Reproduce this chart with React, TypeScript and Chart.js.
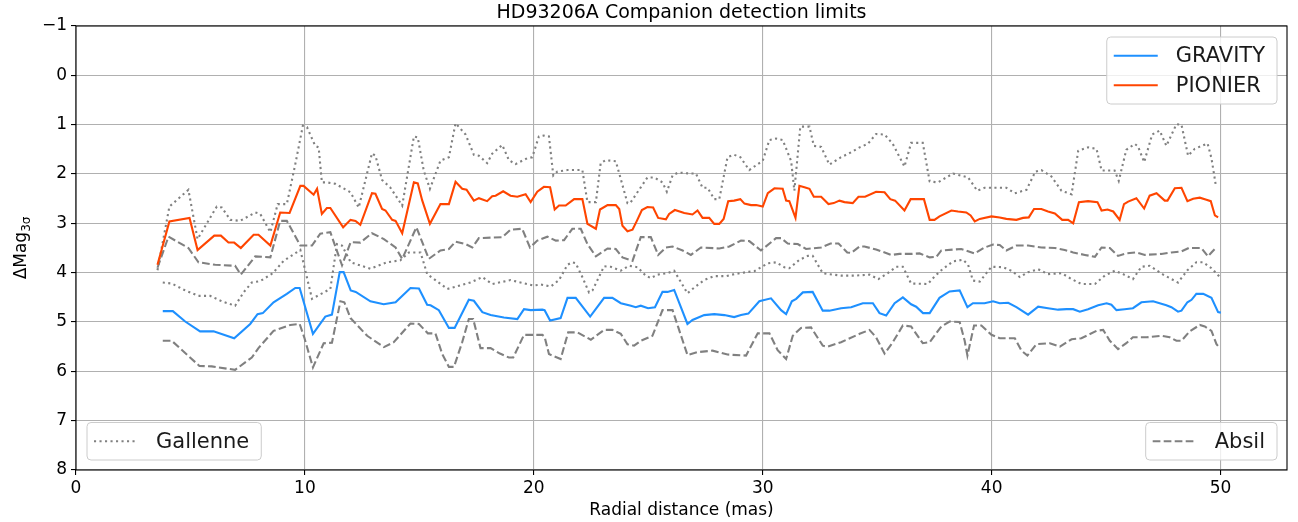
import React, { useEffect, useRef } from "react";
import { Chart, registerables } from "chart.js";

Chart.register(...registerables);

const TITLE = "HD93206A Companion detection limits";
const X_LABEL = "Radial distance (mas)";
const Y_LABEL_MAIN = "ΔMag";
const Y_LABEL_SUB = "3σ";
const X_TICKS = [0, 10, 20, 30, 40, 50];
const Y_TICKS = [-1, 0, 1, 2, 3, 4, 5, 6, 7, 8];

const gravityX = [3.79, 4.23, 4.77, 5.42, 6.01, 6.91, 7.61, 7.93, 8.16, 8.63, 9.21, 9.58, 9.77, 10.35, 10.89, 11.18, 11.52, 11.69, 12.0, 12.22, 12.86, 13.44, 13.96, 14.61, 14.98, 15.34, 15.49, 15.85, 16.29, 16.54, 17.16, 17.38, 17.75, 18.11, 18.69, 19.28, 19.57, 19.86, 20.37, 20.47, 20.71, 21.17, 21.47, 21.83, 22.46, 23.07, 23.43, 23.8, 24.24, 24.45, 24.67, 24.99, 25.29, 25.62, 25.84, 26.13, 26.71, 26.93, 27.44, 27.88, 28.32, 28.75, 29.05, 29.37, 29.85, 30.36, 30.8, 31.02, 31.27, 31.46, 31.75, 32.18, 32.62, 32.91, 33.42, 33.86, 34.37, 34.81, 35.1, 35.39, 35.76, 36.12, 36.48, 36.7, 37.0, 37.29, 37.72, 38.16, 38.6, 38.94, 39.18, 39.69, 40.06, 40.35, 40.72, 41.08, 41.59, 42.03, 42.46, 42.9, 43.27, 43.56, 43.85, 44.21, 44.65, 45.02, 45.23, 45.45, 45.81, 46.17, 46.54, 47.05, 47.63, 47.85, 48.14, 48.29, 48.55, 48.73, 48.94, 49.24, 49.6, 49.89, 50.01];
const gravityY = [4.78, 4.78, 4.99, 5.19, 5.19, 5.33, 5.04, 4.84, 4.82, 4.6, 4.43, 4.31, 4.31, 5.24, 4.89, 4.85, 3.99, 3.99, 4.36, 4.39, 4.58, 4.64, 4.6, 4.31, 4.32, 4.65, 4.66, 4.76, 5.12, 5.12, 4.55, 4.57, 4.8, 4.86, 4.91, 4.94, 4.74, 4.76, 4.75, 4.76, 4.97, 4.92, 4.51, 4.51, 4.89, 4.51, 4.51, 4.62, 4.67, 4.7, 4.67, 4.72, 4.7, 4.39, 4.39, 4.35, 5.04, 4.96, 4.86, 4.84, 4.86, 4.9, 4.86, 4.83, 4.58, 4.52, 4.76, 4.84, 4.58, 4.53, 4.4, 4.39, 4.77, 4.77, 4.72, 4.7, 4.62, 4.62, 4.82, 4.87, 4.62, 4.5, 4.64, 4.69, 4.82, 4.82, 4.51, 4.38, 4.36, 4.7, 4.62, 4.62, 4.58, 4.62, 4.61, 4.7, 4.85, 4.69, 4.72, 4.75, 4.74, 4.74, 4.79, 4.74, 4.66, 4.62, 4.65, 4.76, 4.74, 4.72, 4.6, 4.58, 4.66, 4.7, 4.79, 4.77, 4.6, 4.55, 4.43, 4.43, 4.51, 4.8, 4.81];

const pionierX = [3.56, 4.08, 4.96, 5.31, 6.04, 6.33, 6.66, 6.91, 7.2, 7.76, 7.97, 8.49, 8.92, 9.33, 9.8, 9.94, 10.38, 10.53, 10.74, 10.96, 11.11, 11.67, 11.99, 12.21, 12.42, 12.93, 13.08, 13.37, 13.52, 13.81, 13.96, 14.25, 14.76, 14.93, 15.12, 15.46, 15.92, 16.29, 16.58, 16.87, 17.06, 17.38, 17.6, 17.96, 18.18, 18.33, 18.66, 18.98, 19.28, 19.64, 19.86, 20.15, 20.44, 20.71, 20.91, 21.1, 21.39, 21.76, 22.12, 22.34, 22.71, 22.89, 23.22, 23.58, 23.73, 23.87, 24.09, 24.31, 24.5, 24.72, 24.96, 25.21, 25.43, 25.77, 25.91, 26.16, 26.57, 26.93, 27.15, 27.37, 27.66, 27.88, 28.1, 28.29, 28.49, 28.75, 29.02, 29.2, 29.49, 29.71, 30.0, 30.22, 30.51, 30.87, 31.02, 31.16, 31.43, 31.6, 31.82, 32.04, 32.23, 32.55, 32.87, 33.1, 33.35, 33.57, 33.93, 34.18, 34.47, 34.95, 35.32, 35.57, 35.78, 36.19, 36.46, 37.04, 37.29, 37.5, 37.72, 38.24, 38.53, 38.89, 39.08, 39.26, 39.48, 39.99, 40.35, 40.64, 41.08, 41.37, 41.62, 41.85, 42.17, 42.46, 42.76, 43.08, 43.34, 43.56, 43.81, 44.21, 44.62, 44.8, 45.06, 45.31, 45.59, 45.78, 45.96, 46.32, 46.66, 46.9, 47.2, 47.56, 47.68, 48.0, 48.29, 48.55, 48.8, 49.09, 49.38, 49.57, 49.75, 49.89];
const pionierY = [3.84, 2.96, 2.89, 3.54, 3.25, 3.25, 3.39, 3.39, 3.5, 3.23, 3.23, 3.45, 2.78, 2.79, 2.24, 2.24, 2.42, 2.3, 2.81, 2.69, 2.69, 3.08, 2.93, 2.95, 3.03, 2.39, 2.4, 2.71, 2.74, 2.93, 2.95, 3.2, 2.17, 2.19, 2.53, 3.01, 2.61, 2.61, 2.16, 2.3, 2.32, 2.54, 2.49, 2.55, 2.45, 2.44, 2.35, 2.44, 2.46, 2.41, 2.57, 2.36, 2.26, 2.27, 2.72, 2.64, 2.64, 2.51, 2.51, 3.01, 3.11, 2.72, 2.63, 2.63, 2.71, 3.05, 3.16, 3.13, 2.95, 2.73, 2.67, 2.68, 2.89, 2.92, 2.81, 2.73, 2.79, 2.82, 2.74, 2.89, 2.89, 3.01, 3.01, 2.91, 2.55, 2.54, 2.51, 2.6, 2.63, 2.63, 2.66, 2.39, 2.29, 2.3, 2.54, 2.55, 2.89, 2.24, 2.27, 2.3, 2.46, 2.46, 2.61, 2.59, 2.54, 2.57, 2.59, 2.46, 2.46, 2.36, 2.37, 2.51, 2.54, 2.74, 2.51, 2.51, 2.93, 2.93, 2.86, 2.74, 2.76, 2.78, 2.84, 2.96, 2.91, 2.86, 2.88, 2.91, 2.93, 2.89, 2.88, 2.71, 2.71, 2.76, 2.8, 2.93, 2.93, 3.0, 2.57, 2.55, 2.57, 2.74, 2.72, 2.76, 2.93, 2.61, 2.56, 2.49, 2.7, 2.44, 2.39, 2.54, 2.54, 2.29, 2.28, 2.55, 2.5, 2.48, 2.52, 2.55, 2.84, 2.88];

const gallenneUpperX = [3.56, 4.08, 4.91, 5.31, 6.15, 6.37, 6.74, 7.17, 7.83, 8.05, 8.49, 8.81, 9.21, 9.58, 9.91, 10.09, 10.45, 10.6, 10.74, 10.96, 11.33, 11.99, 12.35, 12.93, 13.08, 13.37, 13.74, 14.25, 14.76, 14.93, 15.19, 15.46, 15.92, 16.29, 16.58, 17.02, 17.38, 17.6, 17.96, 18.18, 18.62, 18.91, 19.2, 19.71, 19.93, 20.22, 20.44, 20.66, 20.85, 21.03, 21.47, 22.12, 22.34, 22.71, 22.92, 23.14, 23.58, 24.09, 24.21, 24.67, 24.96, 25.26, 25.62, 25.81, 26.06, 26.31, 26.79, 27.08, 27.37, 27.59, 27.88, 28.1, 28.46, 28.75, 29.02, 29.41, 30.0, 30.29, 30.58, 30.87, 31.24, 31.38, 31.64, 32.04, 32.23, 32.55, 32.91, 33.42, 33.86, 34.23, 34.59, 34.95, 35.32, 35.68, 36.19, 36.48, 36.99, 37.29, 37.65, 38.31, 38.97, 39.37, 39.69, 40.64, 41.01, 41.52, 41.91, 42.17, 42.61, 43.05, 43.49, 43.78, 44.21, 44.58, 44.8, 45.37, 45.55, 45.88, 46.25, 46.39, 46.66, 47.01, 47.34, 47.63, 48.07, 48.29, 48.58, 48.87, 49.43, 49.6, 49.78];
const gallenneUpperY = [3.95, 2.66, 2.32, 3.32, 2.66, 2.68, 2.93, 2.95, 2.78, 2.81, 3.18, 2.61, 2.61, 1.8, 1.02, 1.05, 1.43, 1.46, 2.17, 2.17, 2.2, 2.37, 2.68, 1.58, 1.63, 2.12, 2.28, 2.64, 1.24, 1.26, 1.93, 2.3, 1.73, 1.66, 0.97, 1.2, 1.61, 1.63, 1.78, 1.59, 1.41, 1.72, 1.8, 1.68, 1.66, 1.24, 1.22, 1.24, 2.03, 1.95, 1.92, 1.92, 2.57, 2.57, 1.78, 1.72, 1.74, 2.59, 2.59, 2.27, 2.07, 2.07, 2.17, 2.36, 2.03, 1.97, 1.99, 1.99, 2.28, 2.28, 2.51, 2.51, 1.66, 1.61, 1.66, 1.92, 1.73, 1.31, 1.28, 1.31, 1.74, 2.34, 1.04, 1.04, 1.43, 1.45, 1.81, 1.66, 1.56, 1.46, 1.39, 1.19, 1.2, 1.39, 1.85, 1.37, 1.37, 2.15, 2.17, 1.99, 2.07, 2.34, 2.28, 2.28, 2.39, 2.32, 1.95, 1.92, 2.05, 2.34, 2.41, 1.53, 1.46, 1.49, 1.93, 1.93, 2.14, 1.51, 1.39, 1.44, 1.76, 1.2, 1.12, 1.43, 0.99, 1.0, 1.63, 1.49, 1.38, 1.68, 2.2];

const gallenneLowerX = [3.79, 4.18, 4.77, 5.35, 5.86, 6.37, 6.95, 7.32, 7.68, 8.05, 8.6, 9.07, 9.8, 10.31, 11.11, 11.4, 11.62, 12.0, 12.86, 13.59, 14.17, 14.54, 15.05, 15.34, 16.22, 17.23, 17.75, 18.18, 18.98, 19.99, 20.3, 20.74, 21.1, 21.47, 21.68, 21.83, 22.12, 22.41, 22.56, 23.07, 23.36, 23.8, 24.16, 24.53, 24.89, 25.11, 25.4, 25.84, 26.13, 26.71, 27.01, 27.44, 27.88, 28.39, 28.75, 29.27, 29.63, 30.22, 30.58, 30.94, 31.16, 31.6, 31.97, 32.18, 32.62, 32.91, 33.42, 34.01, 34.66, 35.05, 35.46, 35.83, 36.12, 36.48, 37.21, 37.5, 37.8, 38.31, 38.75, 38.97, 39.18, 39.48, 39.99, 40.5, 40.86, 41.23, 41.59, 42.03, 42.46, 43.05, 43.49, 43.92, 44.51, 44.94, 45.38, 45.74, 46.17, 46.54, 46.9, 47.49, 48.14, 48.55, 48.94, 49.24, 49.6, 49.97];
const gallenneLowerY = [4.2, 4.22, 4.36, 4.47, 4.47, 4.58, 4.67, 4.4, 4.2, 4.17, 4.01, 3.76, 3.54, 4.53, 4.33, 3.42, 3.45, 3.79, 3.92, 3.79, 3.75, 3.59, 3.59, 4.03, 4.33, 4.2, 4.09, 4.23, 4.15, 4.26, 4.24, 4.28, 4.15, 3.84, 3.79, 3.81, 4.09, 4.4, 4.36, 3.87, 3.88, 3.96, 3.86, 3.89, 4.06, 4.11, 4.04, 4.01, 3.96, 4.42, 4.3, 4.15, 4.07, 4.07, 4.03, 3.99, 3.97, 3.81, 3.79, 3.89, 3.91, 3.74, 3.66, 3.66, 4.01, 4.03, 4.06, 4.06, 4.04, 4.13, 4.01, 3.88, 3.88, 4.22, 4.23, 4.08, 3.95, 3.77, 3.74, 3.84, 4.16, 4.18, 3.88, 3.89, 3.96, 4.09, 3.99, 3.93, 4.03, 4.01, 4.13, 4.23, 4.23, 4.06, 3.96, 4.03, 4.13, 3.88, 3.86, 4.04, 4.2, 3.95, 3.79, 3.79, 3.91, 4.09];

const absilUpperX = [3.56, 4.04, 4.91, 5.35, 6.08, 6.95, 7.2, 7.83, 8.49, 8.92, 9.21, 9.8, 10.31, 10.67, 11.11, 11.62, 12.0, 12.42, 12.93, 13.45, 13.96, 14.25, 14.87, 15.41, 15.92, 16.29, 16.58, 17.02, 17.31, 17.6, 18.62, 18.98, 19.49, 19.83, 20.15, 20.59, 20.96, 21.32, 21.68, 22.05, 22.34, 22.71, 23.22, 23.58, 23.87, 24.31, 24.67, 25.11, 25.43, 25.77, 26.06, 26.5, 26.86, 27.3, 28.1, 28.54, 29.05, 29.41, 29.92, 30.58, 30.8, 31.09, 31.53, 31.89, 32.55, 32.96, 33.31, 33.69, 33.86, 34.23, 34.44, 34.95, 35.61, 35.97, 36.48, 36.85, 37.29, 37.58, 37.8, 38.67, 39.26, 39.69, 40.06, 40.35, 40.64, 41.08, 41.59, 42.17, 42.76, 43.19, 43.56, 44.07, 44.51, 44.8, 45.16, 45.52, 45.88, 46.32, 46.69, 47.41, 47.85, 48.29, 48.61, 49.16, 49.45, 49.6, 49.79];
const absilUpperY = [3.9, 3.27, 3.5, 3.79, 3.84, 3.86, 4.04, 3.67, 3.69, 2.95, 2.95, 3.45, 3.45, 3.21, 3.18, 3.85, 3.38, 3.39, 3.2, 3.32, 3.49, 3.72, 3.08, 3.72, 3.55, 3.52, 3.37, 3.42, 3.49, 3.3, 3.28, 3.13, 3.11, 3.49, 3.35, 3.27, 3.35, 3.34, 3.11, 3.11, 3.42, 3.67, 3.51, 3.52, 3.69, 3.76, 3.28, 3.28, 3.64, 3.49, 3.47, 3.55, 3.64, 3.49, 3.51, 3.47, 3.35, 3.36, 3.55, 3.3, 3.3, 3.41, 3.42, 3.52, 3.49, 3.41, 3.41, 3.59, 3.6, 3.47, 3.47, 3.53, 3.64, 3.62, 3.62, 3.61, 3.69, 3.68, 3.55, 3.52, 3.61, 3.49, 3.43, 3.44, 3.55, 3.45, 3.45, 3.49, 3.5, 3.54, 3.59, 3.64, 3.68, 3.49, 3.5, 3.66, 3.61, 3.59, 3.64, 3.62, 3.59, 3.57, 3.5, 3.5, 3.67, 3.59, 3.5];

const absilLowerX = [3.79, 4.18, 5.39, 5.93, 6.95, 7.68, 7.97, 8.63, 9.36, 9.77, 9.97, 10.35, 10.82, 11.18, 11.55, 11.72, 11.99, 12.72, 13.45, 13.88, 14.61, 14.98, 15.37, 15.7, 16.0, 16.29, 16.51, 16.87, 17.16, 17.35, 17.67, 18.11, 18.52, 18.91, 19.1, 19.57, 20.37, 20.47, 20.66, 21.17, 21.5, 21.9, 22.49, 23.07, 23.43, 23.8, 24.09, 24.38, 24.67, 25.18, 25.62, 26.06, 26.31, 26.71, 27.15, 27.81, 28.46, 29.27, 29.78, 30.29, 30.65, 31.02, 31.31, 31.67, 32.11, 32.62, 32.84, 33.42, 34.23, 34.66, 34.95, 35.32, 35.68, 36.12, 36.48, 36.99, 37.29, 37.8, 38.16, 38.6, 38.82, 38.94, 39.23, 39.55, 39.99, 40.35, 41.01, 41.3, 41.56, 41.95, 42.54, 42.98, 43.49, 43.92, 44.58, 44.87, 45.16, 45.52, 45.88, 46.17, 46.76, 47.41, 47.78, 48.07, 48.29, 48.65, 49.09, 49.31, 49.6, 49.82, 49.97];
const absilLowerY = [5.38, 5.38, 5.89, 5.9, 5.97, 5.72, 5.53, 5.18, 5.06, 5.04, 5.31, 5.92, 5.43, 5.42, 4.58, 4.6, 4.92, 5.28, 5.51, 5.41, 5.03, 5.04, 5.23, 5.23, 5.65, 5.91, 5.91, 5.41, 4.94, 4.94, 5.53, 5.53, 5.64, 5.72, 5.72, 5.26, 5.26, 5.3, 5.65, 5.75, 5.21, 5.21, 5.36, 5.16, 5.16, 5.24, 5.45, 5.48, 5.38, 5.28, 4.76, 4.76, 5.11, 5.67, 5.61, 5.58, 5.66, 5.68, 5.23, 5.23, 5.57, 5.75, 5.28, 5.12, 5.11, 5.48, 5.5, 5.41, 5.24, 5.16, 5.31, 5.64, 5.41, 5.07, 5.09, 5.43, 5.41, 5.09, 4.99, 5.0, 5.38, 5.68, 5.07, 5.07, 5.26, 5.33, 5.33, 5.58, 5.68, 5.45, 5.43, 5.5, 5.35, 5.33, 5.18, 5.16, 5.38, 5.55, 5.43, 5.31, 5.31, 5.28, 5.31, 5.38, 5.38, 5.19, 5.06, 5.09, 5.18, 5.45, 5.53];

const FONT = "'DejaVu Sans', 'Liberation Sans', sans-serif";
const GRAY = "#808080";
const DOT = [2.1, 3.4];
const DASH = [7.7, 3.3];

function pts(xs: number[], ys: number[]) {
  return xs.map((x, i) => ({ x, y: ys[i] }));
}

function roundRect(ctx: CanvasRenderingContext2D, x: number, y: number, w: number, h: number, r: number) {
  ctx.beginPath();
  ctx.moveTo(x + r, y);
  ctx.lineTo(x + w - r, y);
  ctx.arcTo(x + w, y, x + w, y + r, r);
  ctx.lineTo(x + w, y + h - r);
  ctx.arcTo(x + w, y + h, x + w - r, y + h, r);
  ctx.lineTo(x + r, y + h);
  ctx.arcTo(x, y + h, x, y + h - r, r);
  ctx.lineTo(x, y + r);
  ctx.arcTo(x, y, x + r, y, r);
  ctx.closePath();
}

function drawLegend(chart: any, idxs: number[], corner: string) {
  const { ctx, chartArea: a } = chart;
  const fs = 21;
  ctx.save();
  ctx.font = `${fs}px ${FONT}`;
  const labels = idxs.map((i) => chart.data.datasets[i].label as string);
  const tw = Math.max(...labels.map((l) => ctx.measureText(l).width));
  const padL = 7, handle = 44, gap = 18, padR = 12, rowH = 29.5, padV = 4;
  const w = padL + handle + gap + tw + padR;
  const h = idxs.length * rowH + padV * 2;
  const x = corner.includes("right") ? a.right - 10 - w : a.left + 11;
  const y = corner.includes("top") ? a.top + 11 : a.bottom - 10 - h;
  roundRect(ctx, x, y, w, h, 4);
  ctx.fillStyle = "rgba(255,255,255,0.8)";
  ctx.fill();
  ctx.strokeStyle = "#cccccc";
  ctx.lineWidth = 1;
  ctx.stroke();
  idxs.forEach((di, k) => {
    const ds = chart.data.datasets[di];
    const cy = y + padV + rowH * (k + 0.5);
    ctx.beginPath();
    ctx.strokeStyle = ds.borderColor;
    ctx.lineWidth = ds.borderWidth;
    ctx.setLineDash(ds.borderDash || []);
    ctx.moveTo(x + padL, cy);
    ctx.lineTo(x + padL + handle, cy);
    ctx.stroke();
    ctx.setLineDash([]);
    ctx.fillStyle = "#1a1a1a";
    ctx.textAlign = "left";
    ctx.textBaseline = "middle";
    ctx.fillText(ds.label, x + padL + handle + gap, cy + 1);
  });
  ctx.restore();
}

const decorPlugin = {
  id: "decor",
  afterDraw(chart: any) {
    const { ctx, chartArea: a } = chart;
    ctx.save();
    ctx.strokeStyle = "#000";
    ctx.lineWidth = 1.1;
    ctx.setLineDash([]);
    ctx.strokeRect(a.left, a.top, a.right - a.left, a.bottom - a.top);

    const cx = (a.left + a.right) / 2;
    ctx.fillStyle = "#000";
    ctx.textAlign = "center";
    ctx.textBaseline = "alphabetic";
    ctx.font = `19px ${FONT}`;
    ctx.fillText(TITLE, cx, 17.5);

    ctx.font = `17px ${FONT}`;
    ctx.fillText(X_LABEL, cx, 515);

    // y label with subscript
    ctx.font = `17px ${FONT}`;
    const w1 = ctx.measureText(Y_LABEL_MAIN).width;
    ctx.font = `12px ${FONT}`;
    const w2 = ctx.measureText(Y_LABEL_SUB).width;
    const tot = w1 + w2;
    ctx.translate(20, (a.top + a.bottom) / 2);
    ctx.rotate(-Math.PI / 2);
    ctx.textAlign = "left";
    ctx.font = `17px ${FONT}`;
    ctx.fillText(Y_LABEL_MAIN, -tot / 2, 6);
    ctx.font = `12px ${FONT}`;
    ctx.fillText(Y_LABEL_SUB, -tot / 2 + w1, 9.5);
    ctx.restore();

    drawLegend(chart, [0, 1], "top-right");
    drawLegend(chart, [2], "bottom-left");
    drawLegend(chart, [4], "bottom-right");
  },
};

export default function App() {
  const ref = useRef<HTMLCanvasElement | null>(null);

  useEffect(() => {
    document.body.style.margin = "0";
    const canvas = ref.current;
    if (!canvas) return;
    const tickFont = { family: FONT, size: 17 };
    const chart = new Chart(canvas, {
      type: "line",
      data: {
        datasets: [
          { label: "GRAVITY", data: pts(gravityX, gravityY), borderColor: "#1E90FF", borderWidth: 2.1, pointRadius: 0, fill: false, order: 1 },
          { label: "PIONIER", data: pts(pionierX, pionierY), borderColor: "#FF4500", borderWidth: 2.1, pointRadius: 0, fill: false, order: 1 },
          { label: "Gallenne", data: pts(gallenneUpperX, gallenneUpperY), borderColor: GRAY, borderWidth: 2.1, borderDash: DOT, pointRadius: 0, fill: false, order: 2 },
          { label: "Gallenne ", data: pts(gallenneLowerX, gallenneLowerY), borderColor: GRAY, borderWidth: 2.1, borderDash: DOT, pointRadius: 0, fill: false, order: 2 },
          { label: "Absil", data: pts(absilLowerX, absilLowerY), borderColor: GRAY, borderWidth: 2.1, borderDash: DASH, pointRadius: 0, fill: false, order: 2 },
          { label: "Absil ", data: pts(absilUpperX, absilUpperY), borderColor: GRAY, borderWidth: 2.1, borderDash: DASH, pointRadius: 0, fill: false, order: 2 },
        ],
      },
      options: {
        animation: false,
        responsive: false,
        events: [],
        layout: { padding: { top: 26, right: 11, bottom: 0, left: 0 } },
        elements: { line: { tension: 0 } },
        plugins: {
          legend: { display: false },
          title: { display: false },
          tooltip: { enabled: false },
        },
        scales: {
          x: {
            type: "linear",
            min: 0,
            max: 52.9,
            afterBuildTicks: (s: any) => {
              s.ticks = X_TICKS.map((v) => ({ value: v }));
            },
            afterFit: (s: any) => {
              s.height = 52;
            },
            grid: { color: "#b0b0b0", lineWidth: 1.1, tickColor: "#000", tickLength: 5 },
            border: { display: false },
            ticks: { font: tickFont, color: "#000", padding: 3, maxRotation: 0, autoSkip: false },
          },
          y: {
            type: "linear",
            reverse: true,
            min: -1,
            max: 8,
            afterBuildTicks: (s: any) => {
              s.ticks = Y_TICKS.map((v) => ({ value: v }));
            },
            afterFit: (s: any) => {
              s.width = 76;
            },
            grid: { color: "#b0b0b0", lineWidth: 1.1, tickColor: "#000", tickLength: 5 },
            border: { display: false },
            ticks: {
              font: tickFont,
              color: "#000",
              padding: 4,
              autoSkip: false,
              callback: (v: any) => (Number(v) < 0 ? "\u2212" + Math.abs(Number(v)) : String(v)),
            },
          },
        },
      },
      plugins: [decorPlugin],
    } as any);
    return () => chart.destroy();
  }, []);

  return (
    <div style={{ position: "absolute", left: 0, top: 0, width: 1298, height: 522, background: "#fff" }}>
      <canvas ref={ref} width={1298} height={522} style={{ display: "block" }} />
    </div>
  );
}
